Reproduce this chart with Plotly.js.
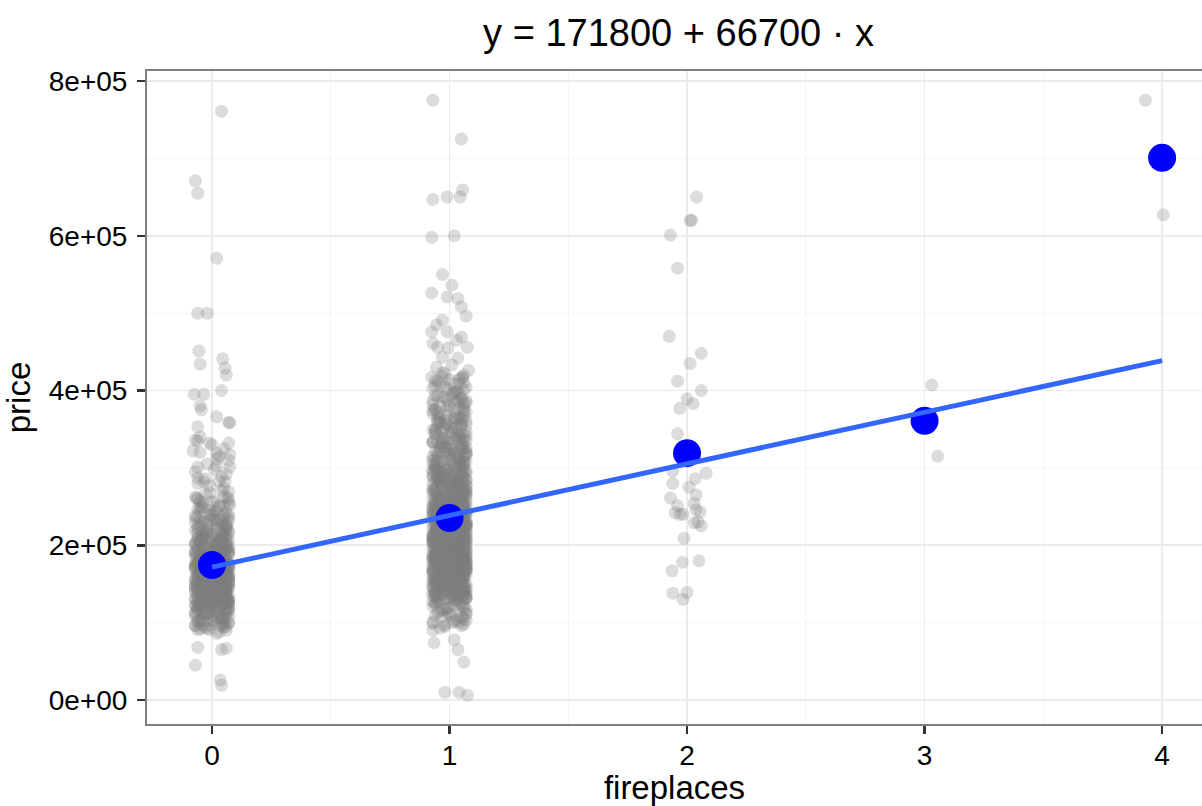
<!DOCTYPE html>
<html><head><meta charset="utf-8">
<script src="https://cdn.plot.ly/plotly-3.0.1.min.js"></script>
<style>html,body{margin:0;padding:0;background:#fff}#chart{width:1202px;height:806px}</style>
</head><body><div id="chart"></div>
<script>
// ---- data (prices in thousands of dollars; jitter = horizontal offset in fireplaces) ----
const levels = [0, 1, 2, 3, 4];
const groupMeans = [174500, 235200, 319000, 360800, 700700];
const fitX = [0, 4];
const fitY = [171800, 438600];
const xTickVals = [0, 1, 2, 3, 4];
const xTickText = ['0', '1', '2', '3', '4'];
const yTickVals = [0, 200000, 400000, 600000, 800000];
const yTickText = ['0e+00', '2e+05', '4e+05', '6e+05', '8e+05'];

const price0Core = [88,92,95,97,99,91,86,94,98,96,
102,105,108,110,112,115,118,104,107,111,113,116,119,101,109,114,117,103,106,120,100,112,118,108,115,
121,123,125,127,129,131,133,135,137,139,122,124,126,128,130,132,134,136,138,140,121,125,129,133,137,123,127,131,135,139,126,130,134,138,124,128,132,136,122,140,
141,143,145,147,149,151,153,155,157,159,142,144,146,148,150,152,154,156,158,160,141,145,149,153,157,143,147,151,155,159,144,148,152,156,146,150,154,158,142,160,145,150,155,147,152,
161,163,165,167,169,171,173,175,177,179,162,164,166,168,170,172,174,176,178,180,161,165,169,173,177,163,167,171,175,179,164,168,172,176,166,170,174,178,162,180,165,170,175,168,172,
181,183,185,187,189,191,193,195,197,199,182,184,186,188,190,192,194,196,198,200,185,190,195,188,193,
201,204,207,210,213,216,219,202,205,208,211,214,217,220,203,209,215,206,212,218,200,210,205,215,219,
222,226,230,234,238,224,228,232,236,240,223,231,227,235,239,
243,247,251,255,259,245,250,257];
const jitter0Core = [.03,-.05,.06,-.01,.07,-.06,.02,-.03,.05,-.07,
.01,.04,-.04,.06,-.02,.07,-.06,.00,.05,-.03,
-.07,.02,.06,-.05,.03,-.01,.07,-.04,.04,-.06,
.05,-.02,.01,-.07,.06,.03,-.05,.07,-.03,.02,
-.04,.06,-.06,.04,.00,-.07,.05,-.02,.07,.01,
.02,-.06,.07,-.03,.05,-.05,.03,-.01,.06,-.04,
-.05,.07,-.02,.04,-.07,.01,.06,-.04,.03,-.06,
.06,-.03,.05,-.07,.02,.04,-.01,.07,-.05,.00,
-.02,.05,-.06,.07,-.04,.03,.01,-.07,.06,-.03,
.04,-.07,.03,.06,-.05,.02,-.03,.05,-.01,.07,
-.06,.01,.07,-.04,.04,-.02,.06,-.06,.02,-.05,
.07,-.04,.00,.05,-.06,.06,-.03,.03,-.07,.04,
-.01,.06,-.05,.02,.07,-.07,.04,-.02,.05,-.04,
.03,-.06,.06,-.02,.01,.05,-.07,.07,-.03,.02,
-.05,.04,-.01,.07,-.06,.03,.05,-.04,.00,.06,
.06,-.07,.02,-.05,.04,-.03,.07,.01,-.06,.05,
-.03,.07,-.04,.03,-.07,.06,-.02,.04,-.05,.01,
.05,-.01,.06,-.06,.02,-.04,.03,-.07,.07,-.02,
-.07,.03,.04,-.03,.06,-.05,.01,.05,-.06,.07,
.02,-.05,.07,-.01,-.04,.04,-.07,.06,.03,-.06,
-.04,.05,-.02,.06,-.07,.02,.07,-.05,.04,-.01,
.07,-.03,.03,-.06,.05,-.02,.06,-.04,.01,-.07,
-.06,.04,-.05,.07,.00,.06,-.03,.02,-.07,.05,
.01,-.06,.05,-.04,.07,-.01,.03,-.05];
const price0Extra = [90,93,96,99,102,105,108,111,114,117,91,94,97,100,103,106,109,112,115,118,95,101,107,113,119,
120,122,124,126,128,130,132,134,136,138,140,142,144,146,148,121,123,125,127,129,131,133,135,137,139,141,143,145,147,149,120,125,130,135,140,145,150,122,127,132,137,142,147,124,129,134,139,144,149,126,
150,152,154,156,158,160,162,164,166,168,170,172,174,176,178,151,153,155,157,159,161,163,165,167,169,171,173,175,177,179,150,155,160,165,170,175,180,152,157,162,167,172,177,154,159,164,169,174,179,156,
180,182,184,186,188,190,192,194,196,198,200,202,204,206,208,181,183,185,187,189,191,193,195,197,199,201,203,205,207,209,185,190,195,200,205,187,192,197,202,207,
210,213,216,219,222,225,228,231,234,237,211,214,217,220,223,226,229,232,235,238,215,221,227,233,239,
240,242,245,248,251,254,257,260,263,266,269,244,250,256,262,
271,274,277,280,283,286,289,292,295,298,
305,310,315,320,325,330,335,312];
const jitter0Extra = [.06,-.02,-.07,.04,.01,-.05,.07,-.03,.03,-.06,
-.01,.05,-.04,.07,-.06,.02,.00,-.07,.06,.03,
.04,-.06,.05,-.02,.07,-.04,-.01,.06,-.05,.01,
-.07,.03,.00,.05,-.03,.06,-.06,.02,.07,-.04,
.02,.07,-.05,-.01,.04,-.07,.05,-.02,.01,.06,
-.03,-.06,.06,.03,-.07,.00,.04,.07,-.04,-.02,
.05,.01,-.03,-.06,.06,.04,-.07,.03,-.01,.07,
-.05,.06,.02,-.04,.00,-.06,.07,-.02,.05,-.07,
.07,-.04,.03,.06,-.05,.01,-.02,.05,-.06,.04,
-.02,.04,-.07,.01,.07,-.03,.06,-.05,.02,.00,
.03,-.07,.06,-.05,.02,.05,-.04,.01,.07,-.01,
-.06,.02,-.02,.07,-.04,.03,.05,-.07,.00,.06,
.01,-.03,.07,-.06,.05,-.01,.03,.04,-.05,-.07,
-.04,.07,-.06,.02,-.02,.06,-.05,.00,.04,.03,
.06,-.05,.01,-.03,.07,-.07,.02,.05,-.04,-.01,
-.07,.00,.04,.06,-.06,.03,-.03,.07,.01,-.05,
.03,.05,-.01,-.07,.04,-.04,.06,-.02,.07,.02,
-.05,-.02,.07,.03,-.06,.05,.00,-.04,.02,.06,
.04,-.07,.02,.05,.00,-.03,-.06,.06,-.01,.07,
-.01,.06,-.05,-.04,.03,.07,.01,-.06,.05,-.03,
.07,.02,-.04,.00,-.07,.04,.05,-.01,-.06,.03,
-.03,.04,.06,-.07,.01,-.02,.07,.03,-.05,.05,
.00,-.06,.02];
const price0Sparse = [761,671,655,571,500,500,451,434,441,429,420,395,395,400,380,375,366,359,358,353,336,340,332,332,322,319,317,301,301,303,287,282,282,268,261,262,250,252,68,65,67,45,26,19];
const jitter0Sparse = [.04,-.07,-.06,.02,-.06,-.02,-.055,-.05,.045,.055,.06,-.075,-.035,.04,-.05,-.045,.02,.07,.075,-.06,-.07,-.05,-.01,.07,-.08,.02,.075,.075,-.06,.02,-.06,.055,-.035,-.01,-.065,.065,-.05,.075,-.06,.04,.06,-.07,.035,.04];

const price1Core = [95,98,101,104,107,93,100,109,
111,113,115,117,119,121,123,125,127,129,112,118,124,128,
131,132,133,134,135,136,137,138,139,140,141,142,143,144,145,146,147,148,149,150,130,133,136,139,142,145,148,131,135,140,144,149,137,143,146,
151,152,153,154,155,156,157,158,159,160,161,162,163,164,165,166,167,168,169,170,151,153,155,157,159,161,163,165,167,169,152,154,156,158,160,162,164,166,168,170,155,158,161,164,167,156,159,162,165,168,
171,172,173,174,175,176,177,178,179,180,181,182,183,184,185,186,187,188,189,190,171,173,175,177,179,181,183,185,187,189,172,174,176,178,180,182,184,186,188,190,170,175,180,185,190,172,177,182,187,174,179,184,189,176,181,186,178,183,
191,192,193,194,195,196,197,198,199,200,201,202,203,204,205,206,207,208,209,210,191,193,195,197,199,201,203,205,207,209,192,194,196,198,200,202,204,206,208,210,195,200,205,197,202,207,194,199,204,209,196,201,206,198,203,
211,212,213,214,215,216,217,218,219,220,221,222,223,224,225,226,227,228,229,230,211,213,215,217,219,221,223,225,227,229,212,214,216,218,220,222,224,226,228,230,215,220,225,217,222,227,214,219,224,229,
231,232,233,234,235,236,237,238,239,240,241,242,243,244,245,246,247,248,249,250,231,233,235,237,239,241,243,245,247,249,232,236,240,244,248,235,239,243,247,250,234,238,
251,252,253,254,255,256,257,258,259,260,261,262,263,264,265,266,267,268,269,270,252,255,258,261,264,267,253,257,262,266,269,254,
271,273,275,277,279,281,283,285,287,289,272,274,276,278,280,282,284,286,288,290,275,280,285,278,
291,293,295,297,299,301,303,305,307,309,292,296,300,304,308,295,299,303,
311,313,315,317,319,321,323,325,327,329,314,320,326,
331,333,336,338,341,343,345,347,349,335,
352,355,358,361,364,367,357,363,
372,375,378,381,384,387,389,
393,397,401,405,409,413];
const jitter1Core = [-.02,.06,-.07,.03,.05,-.04,.01,-.06,.07,-.01,
.04,-.03,.06,-.07,.02,.05,-.05,.00,.07,-.02,
-.06,.03,-.01,.07,-.04,.04,-.07,.06,.01,-.05,
.05,-.06,.02,-.02,.07,-.03,.03,-.07,.06,.00,
-.03,.07,-.05,.01,.04,-.06,.06,-.01,-.04,.03,
.07,-.01,.04,-.05,.00,.06,-.07,.02,-.03,.05,
-.07,.05,-.02,.06,-.06,.01,.03,-.04,.07,-.03,
.02,-.04,.07,-.06,.05,-.02,.04,.06,-.05,.01,
-.05,.01,.05,-.03,.06,-.07,.02,-.01,.04,-.06,
.06,-.05,-.01,.04,-.07,.07,-.02,.03,-.04,.02,
-.01,.03,-.06,.05,.02,-.04,.07,-.07,.00,.06,
.03,-.07,.04,-.02,-.05,.06,.01,-.03,.05,-.06,
-.04,.06,.00,-.06,.07,.02,-.05,.04,-.02,.07,
.01,-.02,.06,-.05,.03,-.07,.05,-.01,.07,-.04,
-.06,.04,-.03,.07,-.01,.05,-.06,.02,.03,-.07,
.05,.00,-.04,.02,-.07,.06,-.02,.07,-.05,.03,
-.02,-.06,.05,.01,.06,-.03,.04,-.07,.02,-.01,
.07,-.05,.02,-.04,.04,.00,-.06,.05,-.03,.06,
-.03,.02,-.07,.06,-.02,.03,.07,-.05,.01,-.04,
.04,-.01,.07,-.06,.05,-.03,.00,.06,-.07,.02,
-.05,.07,-.03,.04,-.06,.01,.05,-.02,.06,-.07,
.00,-.04,.03,-.07,.07,-.01,.04,-.05,.02,.05,
-.07,.06,-.02,.05,-.04,.03,-.06,.07,-.01,.01,
.03,-.05,.06,.00,-.03,.07,-.07,.02,.04,-.02,
-.04,.01,-.06,.06,.02,-.05,.03,-.01,.07,-.03,
.06,-.07,.05,-.02,.01,.04,-.04,.07,-.06,.00,
-.01,.05,-.05,.03,-.07,.06,.02,-.03,.04,-.06,
.07,-.02,.01,-.06,.06,-.04,.05,.00,-.05,.03,
-.06,.03,.07,-.03,.04,-.07,.01,.06,-.02,.05,
.02,-.06,-.01,.05,-.05,.07,-.03,.04,.00,-.04,
-.03,.06,-.07,.02,.07,-.02,.05,-.06,.03,.01,
.05,-.03,.04,-.07,.00,.06,-.05,.01,-.04,.07,
-.07,.02,-.04,.06,-.01,.03,.07,-.06,.05,-.02,
.04,.07,-.06,.01,-.03,.05,-.01,-.07,.06,.02,
-.02,-.05,.03,.07,-.06,.00,.04,.05,-.07,.06,
.01,.04,-.03,-.05,.07,-.06,.02,-.02,.03,-.04,
-.05,.06,.01,-.07,.04,.03,-.04,.07,-.01,.05,
.06,-.01,-.06,.04,.02,-.07,.07,-.03,.05,-.05,
-.04,.02,.06,-.02,-.06,.05,.00,.04,-.07,.07,
.03,-.06,.05,.06,-.04,.01,-.05,.02,.07,-.03,
-.07,.04,-.02,.03,.06,-.03,.07,-.06,-.01,.01,
.05,-.04,.07,-.05,.02,-.01,.03,.06,-.06,.04,
-.01,.07,-.07,.05,-.05,.02,.06,-.02,.04,-.06];
const price1Extra = [96,99,102,105,108,111,114,117,120,123,126,129,97,103,109,115,121,127,100,118,
130,132,134,136,138,140,142,144,146,148,150,152,154,156,158,131,133,135,137,139,141,143,145,147,149,151,153,155,157,159,130,134,138,142,146,150,154,158,132,136,140,144,148,152,156,
160,162,164,166,168,170,172,174,176,178,180,182,184,186,188,161,163,165,167,169,171,173,175,177,179,181,183,185,187,189,160,164,168,172,176,180,184,188,162,166,170,174,178,182,186,163,167,171,175,179,183,187,165,173,181,
190,192,194,196,198,200,202,204,206,208,210,212,214,216,218,191,193,195,197,199,201,203,205,207,209,211,213,215,217,219,190,194,198,202,206,210,214,218,192,196,200,204,208,212,216,193,197,201,205,209,213,217,195,203,211,
220,222,224,226,228,230,232,234,236,238,240,242,244,246,248,221,223,225,227,229,231,233,235,237,239,241,243,245,247,249,220,224,228,232,236,240,244,248,222,226,230,234,238,242,246,223,231,239,247,235,
250,252,254,256,258,260,262,264,266,268,270,272,274,276,278,251,253,255,257,259,261,263,265,267,269,271,273,275,277,279,250,254,258,262,266,270,274,278,252,256,260,264,268,272,276,
280,282,284,286,288,290,292,294,296,298,300,302,304,306,308,281,283,285,287,289,291,293,295,297,299,301,303,305,307,309,280,284,288,292,296,300,304,308,283,295,
310,312,314,316,318,320,322,324,326,328,330,332,334,336,338,311,313,315,317,319,321,323,325,327,329,331,333,335,337,339,314,320,326,332,338,
340,342,344,346,348,350,352,354,356,358,360,362,364,366,368,341,343,345,347,349,351,353,355,357,359,361,363,365,367,369,
370,372,374,376,378,380,382,384,386,388,390,392,394,396,398,371,375,379,383,387,391,395,399,374,386,
400,402,404,406,408,410,412,414,416,418,420,403,409,415,422];
const jitter1Extra = [.05,-.07,.02,.06,-.03,.00,-.05,.07,-.01,.04,
-.06,.03,-.02,.07,.01,-.04,.06,-.07,.04,-.01,
.02,.06,-.05,-.03,.07,-.06,.03,.00,-.04,.05,
-.07,.01,.04,-.02,.05,.07,-.06,.02,-.03,.06,
.03,-.04,.07,.00,-.06,.04,-.01,.05,-.07,.02,
-.02,.05,-.07,.03,.06,-.05,.01,-.03,.07,-.06,
.06,-.01,.00,-.06,.02,.05,-.07,.04,-.02,.07,
-.04,.07,-.03,.05,-.05,.01,.06,-.06,.03,.00,
.01,-.05,.06,-.07,.04,-.02,.07,.03,-.06,-.03,
-.05,.02,.03,.07,-.04,.06,-.03,-.07,.05,.01,
.07,-.06,-.01,.02,.00,-.03,.04,.06,-.05,-.07,
-.03,.04,.05,-.05,.07,-.07,.02,-.01,.06,.03,
.04,.00,-.06,.01,-.02,.07,-.04,.05,-.07,.06,
-.01,-.07,.07,.04,-.06,.03,.05,-.05,.02,-.02,
.06,.03,-.04,-.07,.05,-.01,.00,.07,-.03,.04,
-.06,.05,.01,.06,-.07,.02,-.05,.03,.07,-.04,
.02,-.03,.07,-.04,.03,.06,-.06,-.02,.00,.05,
-.07,.06,-.05,.00,.04,-.03,.07,.01,-.01,-.06,
.05,.01,.03,-.06,-.02,.05,-.07,.06,.04,-.05,
-.04,-.01,.06,.07,-.05,.00,.02,-.07,.03,.07,
.00,.07,-.02,-.05,.06,-.06,.04,.02,-.04,.01,
-.02,-.06,.04,.03,.01,.07,-.03,-.05,.06,-.07,
.07,.02,-.07,-.01,-.04,.04,.06,.00,-.06,.03,
-.05,.04,.00,.06,.07,-.02,-.07,.05,.01,-.03,
.03,-.05,.05,-.04,-.06,.02,.01,.07,-.02,.06,
-.06,.00,-.03,.07,.03,-.07,.05,-.04,.04,.02,
.04,.06,.01,-.06,-.01,.05,-.05,.03,-.07,.00,
-.01,-.04,.07,.02,-.07,.06,.00,-.03,.05,-.05,
.06,-.02,-.06,.05,.04,-.04,.03,.07,-.05,.01,
-.03,.07,.02,-.07,.00,.03,-.06,.04,.06,-.02,
.01,-.06,-.04,.04,.07,-.01,.06,-.05,.02,-.07,
-.07,.03,.06,.00,-.05,.07,-.02,.01,-.04,.05,
.05,-.03,-.07,.06,.02,-.06,.04,-.01,.07,.00,
-.04,.01,.05,-.02,.06,.00,-.07,.07,-.03,.03,
.02,.07,-.01,-.05,-.03,.04,.05,-.06,.01,-.04,
-.06,-.02,.03,.07,.05,-.05,-.04,.02,.06,-.01,
.07,.04,-.06,.01,-.07,.02,.00,.05,-.02,-.05,
-.02,.05,.04,-.04,.03,-.07,.07,-.01,-.06,.06,
.00,-.07,.06,.03,-.01,.05,-.03,-.06,.04,.02,
-.05,.06,-.04,.02,.07,-.02,.01,.03,-.07,.04,
.03,-.01,.07,-.06,-.04,.06,-.05,.00,.05,-.03,
.06,-.07,.01,.04,-.02];
const price1Sparse = [775,725,659,650,650,647,598,600,550,536,526,521,519,508,496,491,485,476,476,469,465,461,456,456,455,443,442,430,433,426,417,423,417,90,74,78,65,49,10,10,6];
const jitter1Sparse = [-.07,.05,.055,.045,-.01,-.07,-.075,.02,-.03,.01,-.075,-.01,.035,.05,.07,-.03,-.055,-.075,-.01,.05,.03,-.07,-.05,.075,-.005,-.03,.035,-.055,.01,.08,-.075,-.03,.055,-.07,-.065,.02,.035,.06,-.02,.04,.075];

const price2 = [650,620,620,601,558,470,448,435,412,400,389,383,377,344,296,293,280,286,275,265,261,251,254,246,243,242,240,240,229,225,230,209,178,180,167,138,139,130];
const jitter2 = [.04,.013,.02,-.07,-.04,-.075,.06,.013,-.04,.06,.0,.025,-.03,-.04,-.06,.08,-.06,.034,.008,.038,-.07,-.04,.03,.038,.055,-.05,-.017,-.03,.03,.06,.046,-.013,-.02,.05,-.063,-.06,.0,-.017];
const price3 = [407, 315];
const jitter3 = [.03, .055];
const price4 = [775, 627];
const jitter4 = [-.07, .005];

// ---- build jittered points ----
const groups = [
  [price0Core.concat(price0Extra, price0Sparse), jitter0Core.concat(jitter0Extra, jitter0Sparse)],
  [price1Core.concat(price1Extra, price1Sparse), jitter1Core.concat(jitter1Extra, jitter1Sparse)],
  [price2, jitter2], [price3, jitter3], [price4, jitter4]
];
const px = [], py = [];
groups.forEach((g, i) => {
  g[0].forEach((p, j) => { px.push(levels[i] + g[1][j]); py.push(p * 1000); });
});

const font = '"Liberation Sans", Arial, Helvetica, sans-serif';
const traces = [
  {type:'scatter', mode:'markers', x:px, y:py, hoverinfo:'skip',
   marker:{color:'#7f7f7f', opacity:0.27, size:13, line:{width:0}}},
  {type:'scatter', mode:'markers', x:levels, y:groupMeans, hoverinfo:'skip',
   marker:{color:'#0000ff', size:28, line:{width:0}}},
  {type:'scatter', mode:'lines', x:fitX, y:fitY, hoverinfo:'skip',
   line:{color:'#3366ff', width:5}}
];

const layout = {
  width:1202, height:806,
  margin:{l:147, r:0, t:71, b:82, pad:0},
  paper_bgcolor:'#ffffff', plot_bgcolor:'#ffffff',
  showlegend:false,
  font:{family:font, color:'#000000'},
  title:{text:'y = 171800 + 66700 · x', font:{family:font, size:38, color:'#000000'},
         xref:'container', x:0.5645, xanchor:'center', yref:'container', y:0.96, yanchor:'middle'},
  xaxis:{range:[-0.2737, 4.168], tickmode:'array', tickvals:xTickVals, ticktext:xTickText,
         ticks:'outside', ticklen:8, tickwidth:2.5, tickcolor:'#333333',
         tickfont:{family:font, size:28, color:'#000000'}, ticklabelstandoff:-3,
         showline:true, linecolor:'#7f7f7f', linewidth:2, mirror:true,
         showgrid:true, gridcolor:'#ebebeb', gridwidth:1.6, zeroline:false,
         minor:{tickmode:'array', tickvals:[0.5,1.5,2.5,3.5], showgrid:true, gridcolor:'#f5f5f5', gridwidth:1.2, ticks:''},
         title:{text:'fireplaces', font:{family:font, size:33, color:'#000000'}, standoff:12}},
  yaxis:{range:[-31018, 812925], tickmode:'array', tickvals:yTickVals, ticktext:yTickText,
         ticks:'outside', ticklen:8, tickwidth:2.5, tickcolor:'#333333',
         tickfont:{family:font, size:28, color:'#000000'}, ticklabelstandoff:4,
         showline:true, linecolor:'#7f7f7f', linewidth:2, mirror:false,
         showgrid:true, gridcolor:'#ebebeb', gridwidth:1.6, zeroline:false,
         minor:{tickmode:'array', tickvals:[100000,300000,500000,700000], showgrid:true, gridcolor:'#f5f5f5', gridwidth:1.2, ticks:''},
         title:{text:'price', font:{family:font, size:33, color:'#000000'}, standoff:8}}
};

Plotly.newPlot('chart', traces, layout, {displayModeBar:false, staticPlot:true});
</script>
</body></html>
